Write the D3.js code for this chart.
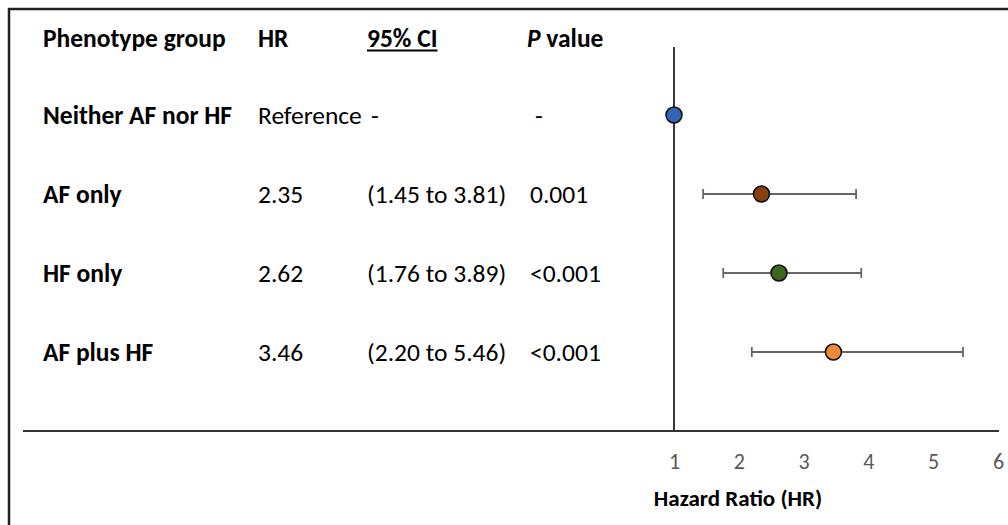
<!DOCTYPE html>
<html><head><meta charset="utf-8">
<script src="https://cdn.jsdelivr.net/npm/d3@7"></script>
<style>
html,body{margin:0;padding:0;background:#fff;}
svg{display:block;font-family:Carlito,Lato,"Open Sans",sans-serif;}
.tick text{font-size:22px;fill:#595959;}
</style></head>
<body><svg id="c" width="1008" height="525"></svg>
<script>
const groups = ["Neither AF nor HF","AF only","HF only","AF plus HF"];
const hr = [1, 2.35, 2.62, 3.46];
const ciLow = [null, 1.45, 1.76, 2.20];
const ciHigh = [null, 3.81, 3.89, 5.46];
const hrText = ["Reference","2.35","2.62","3.46"];
const ciText = ["-","(1.45 to 3.81)","(1.76 to 3.89)","(2.20 to 5.46)"];
const pText = ["-","0.001","<0.001","<0.001"];
const colors = ["#3464b4","#8a3f0e","#3d6522","#f0893a"];
const xTicks = [1,2,3,4,5,6];

const svg = d3.select("#c");
const x = d3.scaleLinear().domain([1,6]).range([674,998]);
const y = d3.scalePoint().domain(groups).range([115,352]);

// frame
svg.append("line").attr("x1",9).attr("x2",9).attr("y1",8).attr("y2",525).attr("stroke","#222").attr("stroke-width",2.5);
svg.append("line").attr("x1",8).attr("x2",1008).attr("y1",9).attr("y2",9).attr("stroke","#222").attr("stroke-width",2.5);

// header
const fs = 25.5;
const hy = 38;
const header = svg.append("g").attr("font-weight","bold").attr("font-size",fs).attr("fill","#000");
header.append("text").attr("x",43).attr("y",hy).attr("dy","0.35em").text("Phenotype group");
header.append("text").attr("x",258).attr("y",hy).attr("dy","0.35em").text("HR");
const ci = header.append("text").attr("x",367).attr("y",hy).attr("dy","0.35em").text("95% CI");
const pv = header.append("text").attr("x",527).attr("y",hy).attr("dy","0.35em");
pv.append("tspan").attr("font-style","italic").text("P");
pv.append("tspan").text(" value");
const ciW = ci.node().getComputedTextLength();
svg.append("line").attr("x1",367).attr("x2",367+ciW).attr("y1",hy+12.5).attr("y2",hy+12.5).attr("stroke","#000").attr("stroke-width",1.8);

// rows
const rows = svg.append("g").attr("font-size",fs).attr("fill","#000");
groups.forEach((g,i)=>{
  const yy = y(g);
  rows.append("text").attr("x",43).attr("y",yy).attr("dy","0.35em").attr("font-weight","bold").text(g);
  rows.append("text").attr("x",258).attr("y",yy).attr("dy","0.35em").text(hrText[i]);
  rows.append("text").attr("x",i===0?371:367).attr("y",yy).attr("dy","0.35em").text(ciText[i]);
  rows.append("text").attr("x",i===0?535:530).attr("y",yy).attr("dy","0.35em").text(pText[i]);
});

// reference lines
svg.append("line").attr("x1",x(1)).attr("x2",x(1)).attr("y1",47).attr("y2",431).attr("stroke","#222").attr("stroke-width",1.8);
svg.append("line").attr("x1",23).attr("x2",999).attr("y1",431).attr("y2",431).attr("stroke","#333").attr("stroke-width",1.8);

// axis ticks labels
const axis = d3.axisBottom(x).tickValues(xTicks).tickFormat(d3.format("d")).tickSize(0).tickPadding(22);
const ag = svg.append("g").attr("transform","translate(0,431)").call(axis);
ag.select(".domain").remove();
ag.attr("font-size",22).attr("font-family",null);
svg.append("text").attr("x",738).attr("y",497.5).attr("dy","0.35em").attr("text-anchor","middle")
  .attr("font-weight","bold").attr("font-size",23).text("Hazard Ratio (HR)");

// error bars
const eb = svg.append("g").attr("stroke","#666").attr("stroke-width",1.8);
groups.forEach((g,i)=>{
  if(ciLow[i]==null) return;
  const yy = y(g);
  eb.append("line").attr("x1",x(ciLow[i])).attr("x2",x(ciHigh[i])).attr("y1",yy).attr("y2",yy);
  eb.append("line").attr("x1",x(ciLow[i])).attr("x2",x(ciLow[i])).attr("y1",yy-5).attr("y2",yy+5);
  eb.append("line").attr("x1",x(ciHigh[i])).attr("x2",x(ciHigh[i])).attr("y1",yy-5).attr("y2",yy+5);
});
svg.append("g").selectAll("circle").data(groups).join("circle")
  .attr("cx",(d,i)=>x(hr[i])).attr("cy",d=>y(d)).attr("r",8)
  .attr("fill",(d,i)=>colors[i]).attr("stroke","#111").attr("stroke-width",1.6);
</script></body></html>
